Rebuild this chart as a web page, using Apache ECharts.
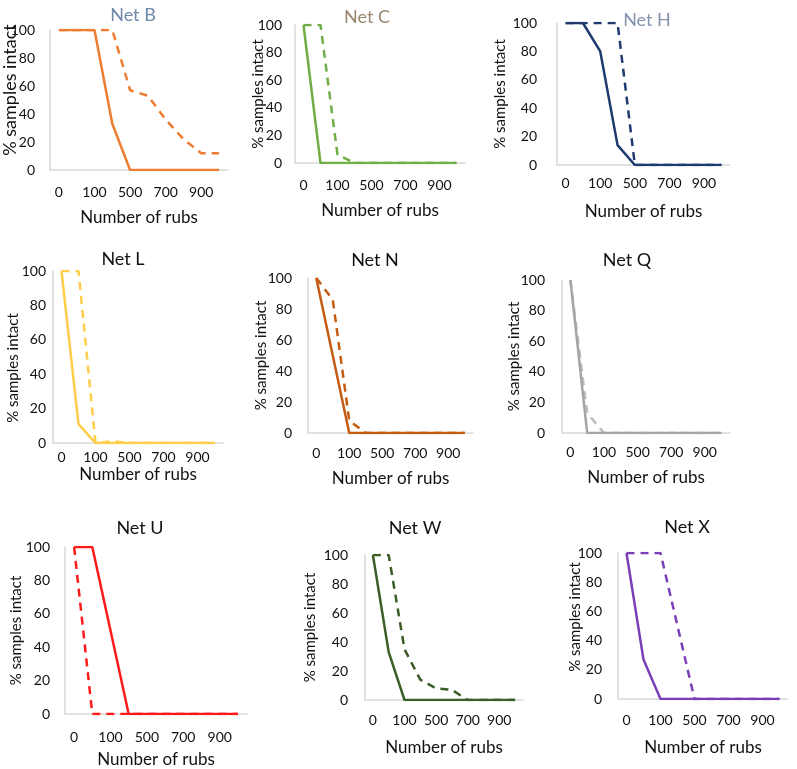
<!DOCTYPE html>
<html>
<head>
<meta charset="utf-8">
<script src="https://cdn.jsdelivr.net/npm/echarts@6/dist/echarts.min.js"></script>
<style>
  html, body { margin: 0; padding: 0; background: #fff; }
  #main { width: 797px; height: 769px; }
</style>
</head>
<body>
<div id="main"></div>
<script>
// rubs categories (only every other one is labelled)
var rubs = ['0', '50', '100', '300', '500', '600', '700', '800', '900', '1000'];

var netB_solid = [100, 100, 100, 33, 0, 0, 0, 0, 0, 0];
var netB_dash  = [100, 100, 100, 100, 57, 53, 36, 22, 12, 12];
var netC_solid = [100, 0, 0, 0, 0, 0, 0, 0, 0, 0];
var netC_dash  = [100, 100, 6, 0, 0, 0, 0, 0, 0, 0];
var netH_solid = [100, 100, 80, 14, 0, 0, 0, 0, 0, 0];
var netH_dash  = [100, 100, 100, 100, 0, 0, 0, 0, 0, 0];
var netL_solid = [100, 11, 0, 0, 0, 0, 0, 0, 0, 0];
var netL_dash  = [100, 100, 0, 1, 0, 0, 0, 0, 0, 0];
var netN_solid = [100, 50, 0, 0, 0, 0, 0, 0, 0, 0];
var netN_dash  = [100, 86, 8, 0, 0, 0, 0, 0, 0, 0];
var netQ_solid = [100, 0, 0, 0, 0, 0, 0, 0, 0, 0];
var netQ_dash  = [100, 13, 0, 0, 0, 0, 0, 0, 0, 0];
var netU_solid = [100, 100, 50, 0, 0, 0, 0, 0, 0, 0];
var netU_dash  = [100, 0, 0, 0, 0, 0, 0, 0, 0, 0];
var netW_solid = [100, 33, 0, 0, 0, 0, 0, 0, 0, 0];
var netW_dash  = [100, 100, 35, 14, 8, 7, 0, 0, 0, 0];
var netX_solid = [100, 27, 0, 0, 0, 0, 0, 0, 0, 0];
var netX_dash  = [100, 100, 100, 50, 0, 0, 0, 0, 0, 0];

var yTicks = [0, 20, 40, 60, 80, 100];

var font = 'Lato, "Open Sans", sans-serif';

// panel layout: plot box, title spot, gaps
// yPad shifts the rotated y name along the axis (left pad = up, right pad = down)
var panels = [
    {name: 'Net B', solid: netB_solid, dash: netB_dash, color: '#ed7d31', dashColor: '#ed7d31', titleColor: '#7088a8',
        left: 50, top: 30, width: 178, height: 140, tx: 128, ty: 1, yGap: 31, yFont: 18, yPad: [0, 0, 0, 20], yMargin: 15, xMargin: 15, xGap: 39},
    {name: 'Net C', solid: netC_solid, dash: netC_dash, color: '#70ad47', dashColor: '#70ad47', titleColor: '#9a8670',
        left: 295, top: 25, width: 170, height: 138, tx: 362, ty: 3, yGap: 29, yFont: 15, yPad: 0, yMargin: 13, xMargin: 15, xGap: 39},
    {name: 'Net H', solid: netH_solid, dash: netH_dash, color: '#1f3a6e', dashColor: '#1f3a6e', titleColor: '#8394ab',
        left: 557, top: 23, width: 173, height: 142, tx: 642, ty: 6, yGap: 49, yFont: 15, yPad: 0, yMargin: 20, xMargin: 11, xGap: 38},
    {name: 'Net L', solid: netL_solid, dash: netL_dash, color: '#ffcd4a', dashColor: '#ffcd4a', titleColor: '#111',
        left: 53, top: 271, width: 170, height: 172, tx: 118, ty: 245, yGap: 32, yFont: 15, yPad: [0, 22, 0, 0], yMargin: 7, xMargin: 7, xGap: 23},
    {name: 'Net N', solid: netN_solid, dash: netN_dash, color: '#c55a11', dashColor: '#c55a11', titleColor: '#111',
        left: 308, top: 278, width: 165, height: 155, tx: 370, ty: 246, yGap: 39, yFont: 15, yPad: 0, yMargin: 16, xMargin: 13, xGap: 37},
    {name: 'Net Q', solid: netQ_solid, dash: netQ_dash, color: '#a5a5a5', dashColor: '#bdbdbd', titleColor: '#111',
        left: 562, top: 280, width: 168, height: 153, tx: 622, ty: 246, yGap: 40, yFont: 15, yPad: 0, yMargin: 17, xMargin: 12, xGap: 36},
    {name: 'Net U', solid: netU_solid, dash: netU_dash, color: '#ff1a1a', dashColor: '#ff1a1a', titleColor: '#111',
        left: 65, top: 547, width: 182, height: 168, tx: 135, ty: 514, yGap: 41, yFont: 15, yPad: 0, yMargin: 15, xMargin: 16, xGap: 37},
    {name: 'Net W', solid: netW_solid, dash: netW_dash, color: '#3b5e27', dashColor: '#3b5e27', titleColor: '#111',
        left: 365, top: 555, width: 158, height: 145, tx: 410, ty: 514, yGap: 47, yFont: 15, yPad: 0, yMargin: 17, xMargin: 13, xGap: 39},
    {name: 'Net X', solid: netX_solid, dash: netX_dash, color: '#7a3fb8', dashColor: '#7a3fb8', titleColor: '#111',
        left: 618, top: 553, width: 170, height: 146, tx: 682, ty: 513, yGap: 35, yFont: 15, yPad: [0, 0, 0, 18], yMargin: 16, xMargin: 14, xGap: 40}
];

var chart = echarts.init(document.getElementById('main'), null, {renderer: 'canvas'});

var option = {
    backgroundColor: '#fff',
    animation: false,
    textStyle: {fontFamily: font},
    title: [],
    grid: [],
    xAxis: [],
    yAxis: [],
    series: []
};

panels.forEach(function (p, i) {
    option.title.push({
        text: p.name,
        left: p.tx,
        top: p.ty,
        textAlign: 'center',
        textStyle: {fontFamily: font, fontSize: 18, fontWeight: 'normal', color: p.titleColor}
    });
    option.grid.push({left: p.left, top: p.top, width: p.width, height: p.height, containLabel: false});
    option.xAxis.push({
        type: 'category',
        gridIndex: i,
        data: rubs,
        boundaryGap: true,
        axisLine: {lineStyle: {color: '#d9d9d9', width: 1.5}},
        axisTick: {show: false},
        axisLabel: {interval: 1, margin: p.xMargin, fontSize: 14, color: '#111', fontFamily: font},
        name: 'Number of rubs',
        nameLocation: 'middle',
        nameGap: p.xGap,
        nameMoveOverlap: false,
        nameTextStyle: {fontSize: 17, color: '#111', fontFamily: font}
    });
    option.yAxis.push({
        type: 'value',
        gridIndex: i,
        min: yTicks[0],
        max: yTicks[yTicks.length - 1],
        interval: 20,
        axisLine: {show: true, lineStyle: {color: '#d9d9d9', width: 1.5}},
        axisTick: {show: false},
        splitLine: {show: false},
        axisLabel: {margin: p.yMargin, fontSize: 14, color: '#111', fontFamily: font},
        name: '% samples intact',
        nameLocation: 'middle',
        nameRotate: 90,
        nameGap: p.yGap,
        nameMoveOverlap: false,
        nameTextStyle: {fontSize: p.yFont, color: '#111', fontFamily: font, padding: p.yPad}
    });
    option.series.push({
        type: 'line',
        xAxisIndex: i,
        yAxisIndex: i,
        data: p.dash,
        symbol: 'none',
        lineStyle: {color: p.dashColor, width: 2.5, type: [8, 6]},
        z: 2
    });
    option.series.push({
        type: 'line',
        xAxisIndex: i,
        yAxisIndex: i,
        data: p.solid,
        symbol: 'none',
        lineStyle: {color: p.color, width: 2.5},
        z: 3
    });
});

chart.setOption(option);
</script>
</body>
</html>
